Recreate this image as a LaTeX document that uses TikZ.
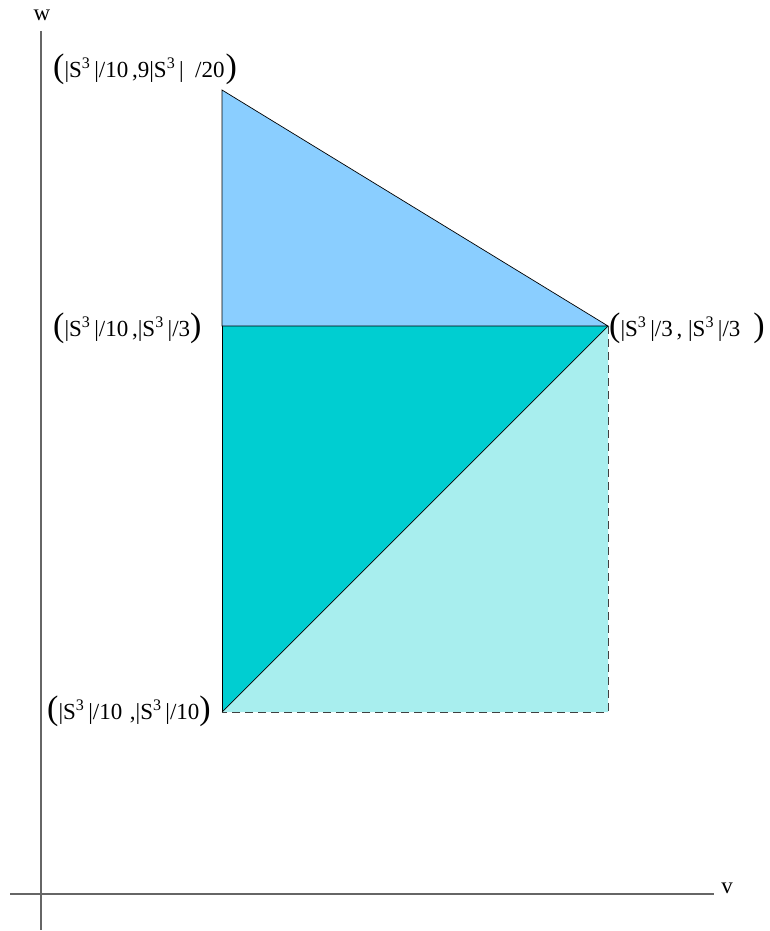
\documentclass[tikz,border=0pt]{standalone}
\usepackage{fontspec}
\setmainfont{Liberation Serif}
\newcommand{\bp}[1]{{\fontsize{34}{34}\selectfont #1}}
\newcommand{\sth}{S\textsuperscript{3}}
\begin{document}
\begin{tikzpicture}[x=1pt,y=-1pt,
  lbl/.style={inner sep=0pt,anchor=west,font=\fontsize{23}{23}\selectfont},
  axis/.style={draw=black!60,line width=1.4pt},
  edge/.style={draw=black,line width=0.7pt},
  dedge/.style={draw=black!75,line width=0.9pt,dash pattern=on 8pt off 5pt}]
\useasboundingbox (0,0) rectangle (769,931);
\coordinate (A) at (222,90);
\coordinate (B) at (222,326);
\coordinate (C) at (608,326);
\coordinate (D) at (222,712);
\coordinate (E) at (608,712);
\coordinate (wt) at (41,31);
\coordinate (wb) at (41,930);
\coordinate (vl) at (10,894);
\coordinate (vr) at (714,894);
% fills
\fill[fill={rgb,255:red,138;green,206;blue,255}] (A) -- (C) -- (B) -- cycle;
\fill[fill={rgb,255:red,0;green,206;blue,209}] (B) -- (C) -- (D) -- cycle;
\fill[fill={rgb,255:red,168;green,238;blue,238}] (C) -- (E) -- (D) -- cycle;
% edges
\draw[edge] (A) -- (C) -- (B) -- cycle;
\draw[edge] (B) -- (D);
\draw[edge] (C) -- (D);
\draw[dedge] (C) -- (E) -- (D);
% axes
\draw[axis] (wt) -- (wb);
\draw[axis] (vl) -- (vr);
\node[lbl,anchor=center] (w) at (42,15) {w};
\node[lbl,anchor=center] (v) at (727,888) {v};
% labels
\node[lbl] (la) at (53,69) {\bp{(}|\sth\,|/10\,,9|\sth\,|\ \ /20\hspace{1pt}\bp{)}};
\node[lbl] (lb) at (53,328) {\bp{(}|\sth\,|/10\,,|\sth\,|/3\bp{)}};
\node[lbl] (lc) at (609,328) {\bp{(}|\sth\,|/3\,, |\sth\,|/3\hspace{13pt}\bp{)}};
\node[lbl] (ld) at (47,711) {\bp{(}|\sth\,|/10\,\,,|\sth\,|/10\bp{)}};
\end{tikzpicture}
\end{document}
